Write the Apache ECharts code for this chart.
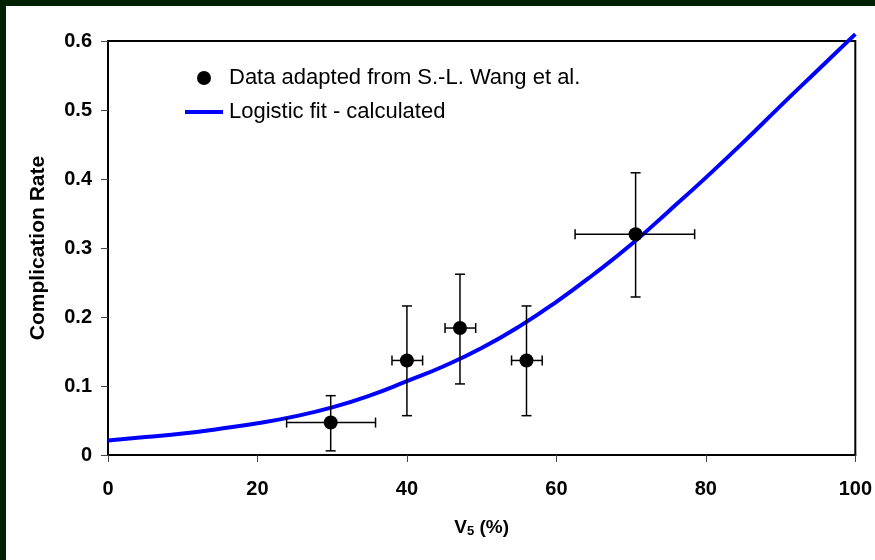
<!DOCTYPE html>
<html>
<head>
<meta charset="utf-8">
<script src="https://cdn.jsdelivr.net/npm/echarts@6/dist/echarts.min.js"></script>
<style>
  html, body { margin: 0; padding: 0; background: #fff; }
  #chart { width: 875px; height: 560px; }
</style>
</head>
<body>
<div id="chart"></div>
<script>
// measured points with error bars
var vx = [29.8, 40.0, 47.1, 56.0, 70.6];
var rate = [0.047, 0.137, 0.184, 0.137, 0.320];
var yLow = [0.006, 0.057, 0.103, 0.057, 0.229];
var yHigh = [0.086, 0.216, 0.262, 0.216, 0.409];
var xLow = [23.9, 38.0, 45.1, 54.0, 62.5];
var xHigh = [35.8, 42.1, 49.2, 58.1, 78.5];

// logistic fit curve
var fitX = [0, 5, 10, 15, 20, 25, 30, 35, 40, 45, 50, 55, 60, 65, 70, 75, 80, 85, 90, 95, 100];
var fitY = [0.021, 0.026, 0.031, 0.038, 0.046, 0.056, 0.069, 0.086, 0.107, 0.129, 0.155,
            0.186, 0.222, 0.262, 0.305, 0.353, 0.402, 0.453, 0.506, 0.558, 0.610];

var xTicks = [0, 20, 40, 60, 80, 100];
var yTicks = [0, 0.1, 0.2, 0.3, 0.4, 0.5, 0.6];

var dataName = 'Data adapted from S.-L. Wang et al.';
var fitName = 'Logistic fit - calculated';
var font = "'Liberation Sans', Arial, sans-serif";

var points = vx.map(function (x, i) { return [x, rate[i]]; });
var curve = fitX.map(function (x, i) { return [x, fitY[i]]; });
var errs = vx.map(function (x, i) { return [x, rate[i], yLow[i], yHigh[i], xLow[i], xHigh[i]]; });

var chart = echarts.init(document.getElementById('chart'));
var option = {
    backgroundColor: '#fff',
    animation: false,
    graphic: [
        { type: 'rect', shape: { x: 0, y: 0, width: 875, height: 6 }, style: { fill: '#022102' } },
        { type: 'rect', shape: { x: 0, y: 0, width: 6, height: 560 }, style: { fill: '#022102' } }
    ],
    grid: {
        left: 108, right: 18, top: 41, bottom: 105,
        show: true, borderColor: '#000', borderWidth: 2, backgroundColor: 'transparent'
    },
    legend: [
        {
            data: [{ name: dataName, icon: 'circle', itemStyle: { color: '#000', opacity: 1 } }],
            left: 192, top: 62, itemWidth: 14, itemHeight: 14,
            selectedMode: false,
            textStyle: { fontFamily: font, fontSize: 22, color: '#000', padding: [0, 0, 0, 13] }
        },
        {
            data: [{ name: fitName, icon: 'rect' }],
            left: 180, top: 96, itemWidth: 38, itemHeight: 4,
            selectedMode: false,
            textStyle: { fontFamily: font, fontSize: 22, color: '#000', padding: [0, 0, 0, 1] }
        }
    ],
    xAxis: {
        type: 'value', min: 0, max: 100, interval: 20,
        name: '{a|V}{b|5}{a| (%)}',
        nameLocation: 'middle', nameGap: 62,
        nameTextStyle: {
            rich: {
                a: { fontFamily: font, fontSize: 19, fontWeight: 'bold', color: '#000' },
                b: { fontFamily: font, fontSize: 13, fontWeight: 'bold', color: '#000', verticalAlign: 'bottom', padding: [8, 0, 0, 0] }
            }
        },
        axisLine: { lineStyle: { color: '#000', width: 2 } },
        axisTick: { length: 7, lineStyle: { color: '#444', width: 1 } },
        splitLine: { show: false },
        axisLabel: { margin: 24, fontFamily: font, fontSize: 20, fontWeight: 'bold', color: '#000' }
    },
    yAxis: {
        type: 'value', min: 0, max: 0.6, interval: 0.1,
        name: 'Complication Rate',
        nameLocation: 'middle', nameRotate: 90, nameGap: 59,
        nameTextStyle: { fontFamily: font, fontSize: 21, fontWeight: 'bold', color: '#000' },
        axisLine: { lineStyle: { color: '#000', width: 2 } },
        axisTick: { length: 7, lineStyle: { color: '#444', width: 1 } },
        splitLine: { show: false },
        axisLabel: {
            margin: 16, fontFamily: font, fontSize: 20, fontWeight: 'bold', color: '#000',
            formatter: function (v) { return v === 0 ? '0' : v.toFixed(1); }
        }
    },
    series: [
        {
            name: fitName,
            type: 'line',
            data: curve,
            smooth: true,
            symbol: 'none',
            clip: false,
            z: 2,
            itemStyle: { color: '#0000ff' },
            lineStyle: { color: '#0000ff', width: 4 }
        },
        {
            type: 'custom',
            data: errs,
            z: 3,
            renderItem: function (params, api) {
                var c = api.coord([api.value(0), api.value(1)]);
                var lo = api.coord([api.value(0), api.value(2)]);
                var hi = api.coord([api.value(0), api.value(3)]);
                var l = api.coord([api.value(4), api.value(1)]);
                var r = api.coord([api.value(5), api.value(1)]);
                var cap = 5;
                var st = { stroke: '#000', lineWidth: 1.5 };
                return {
                    type: 'group',
                    children: [
                        { type: 'line', shape: { x1: c[0], y1: lo[1], x2: c[0], y2: hi[1] }, style: st },
                        { type: 'line', shape: { x1: c[0] - cap, y1: lo[1], x2: c[0] + cap, y2: lo[1] }, style: st },
                        { type: 'line', shape: { x1: c[0] - cap, y1: hi[1], x2: c[0] + cap, y2: hi[1] }, style: st },
                        { type: 'line', shape: { x1: l[0], y1: c[1], x2: r[0], y2: c[1] }, style: st },
                        { type: 'line', shape: { x1: l[0], y1: c[1] - cap, x2: l[0], y2: c[1] + cap }, style: st },
                        { type: 'line', shape: { x1: r[0], y1: c[1] - cap, x2: r[0], y2: c[1] + cap }, style: st }
                    ]
                };
            }
        },
        {
            name: dataName,
            type: 'scatter',
            data: points,
            symbol: 'circle',
            symbolSize: 14,
            z: 4,
            itemStyle: { color: '#000', opacity: 1 }
        }
    ]
};
chart.setOption(option);
</script>
</body>
</html>
